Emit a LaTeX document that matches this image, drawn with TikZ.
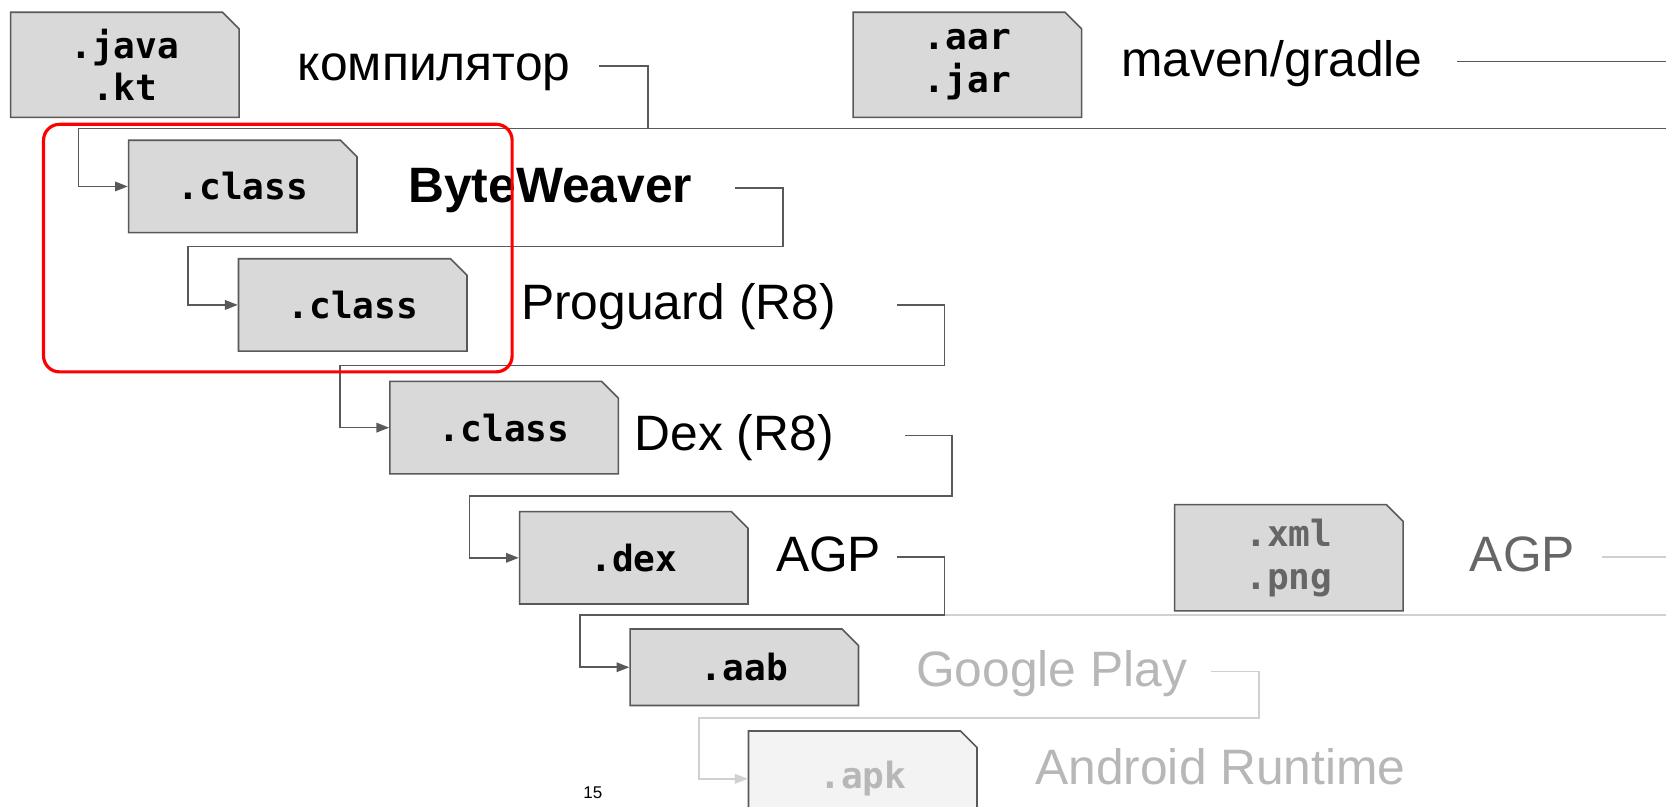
\documentclass[tikz,border=0pt]{standalone}
\usepackage{fontspec}
\setmainfont{Liberation Sans}
\setmonofont{DejaVu Sans Mono}
\usetikzlibrary{shapes.misc,arrows.meta}

\definecolor{boxfill}{HTML}{D9D9D9}
\definecolor{boxline}{HTML}{595959}
\definecolor{connline}{HTML}{595959}
\definecolor{dimtext}{HTML}{666666}
\definecolor{fadetext}{HTML}{B7B7B7}
\definecolor{fadeline}{HTML}{D0D0D0}
\definecolor{fadefill}{HTML}{F3F3F3}

\tikzset{
  filebox/.style={chamfered rectangle, chamfered rectangle corners=north east,
    chamfered rectangle xsep=3.9pt, chamfered rectangle ysep=3.9pt,
    draw=boxline, fill=boxfill, line width=0.75pt,
    minimum width=107.5pt, minimum height=43.5pt, inner sep=0pt, align=center,
    font=\ttfamily\bfseries\fontsize{17}{20}\selectfont},
  lbl/.style={anchor=west, inner sep=0pt, text height=19pt, text depth=5pt,
    font=\fontsize{23.4}{28}\selectfont},
  conn/.style={draw=connline, line width=0.75pt},
  arr/.style={-{Triangle[length=6pt,width=4.5pt]}},
}

\begin{document}
\begin{tikzpicture}[x=0.5pt,y=-0.5pt]
\clip (0,0) rectangle (1568,759);

% file boxes
\node[filebox, minimum height=49.5pt] (java) at (117.5,61) {.java\\.kt};
\node[filebox, minimum height=49.5pt] (aar) at (910.5,61) {.aar\\.jar};
\node[filebox] (cls1) at (228.5,175.5) {.class};
\node[filebox] (cls2) at (332,287) {.class};
\node[filebox] (cls3) at (474.5,402.5) {.class};
\node[filebox] (dex) at (596.5,525) {.dex};
\node[filebox, minimum height=50pt, text=dimtext] (xml) at (1213,525) {.xml\\.png};
\node[filebox, minimum height=36pt] (aab) at (700.5,628) {.aab};
\node[filebox, minimum height=45pt, fill=fadefill, text=fadetext] (apk) at (812,733) {.apk};

% tool labels
\node[lbl] (lcomp) at (280,62) {компилятор};
\node[lbl] (lmaven) at (1055,58) {maven/gradle};
\node[lbl, font=\bfseries\fontsize{23.4}{28}\selectfont] (lbw) at (384,177) {ByteWeaver};
\node[lbl] (lpro) at (490,287) {Proguard (R8)};
\node[lbl] (ldex) at (597,410) {Dex (R8)};
\node[lbl] (lagp) at (730,524) {AGP};
\node[lbl, text=dimtext] (lres) at (1383,524) {AGP};
\node[lbl, text=fadetext] (lplay) at (862,632) {Google Play};
\node[lbl, text=fadetext] (lart) at (974,724) {Android Runtime};
\node[font=\fontsize{8}{9}\selectfont] (pnum) at (558,746) {15};

% bend points: k = right turn, j = left turn
\coordinate (k1) at (610,121);  \coordinate (j1) at (74,121);
\coordinate (k2) at (737,232);  \coordinate (j2) at (177,232);
\coordinate (k3) at (889,344);  \coordinate (j3) at (320,344);
\coordinate (k4) at (896,467);  \coordinate (j4) at (442,467);
\coordinate (k5) at (889,579);  \coordinate (j5) at (546,579);
\coordinate (k6) at (1185,676); \coordinate (j6) at (658,676);

% faded connectors first, dark ones on top
\draw[conn, draw=fadeline] (lres.east) ++(25,0) -- ++(300,0) |- (j5);
\draw[conn, draw=fadeline, arr] (lplay.east) ++(22,0) -| (k6) -- (j6) |- (apk.west);

\draw[conn] (lmaven.east) ++(32,0) -- ++(300,0) |- (j1);
\draw[conn, arr] (lcomp.east) ++(27,0) -| (k1) -- (j1) |- (cls1.west);
\draw[conn, arr] (lbw.east) ++(40,0) -| (k2) -- (j2) |- (cls2.west);
\draw[conn, arr] (lpro.east) ++(57,0) -| (k3) -- (j3) |- (cls3.west);
\draw[conn, arr] (ldex.east) ++(67,0) -| (k4) -- (j4) |- (dex.west);
\draw[conn, arr] (lagp.east) ++(15,0) -| (k5) -- (j5) |- (aab.west);

% highlight
\draw[red, line width=1.5pt, rounded corners=7.5pt] (41,117) rectangle (482,350);

\end{tikzpicture}
\end{document}
